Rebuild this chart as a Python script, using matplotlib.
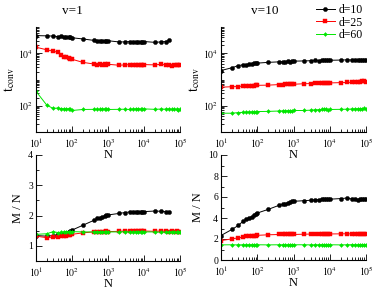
import numpy as np
import matplotlib
matplotlib.use("Agg")
from matplotlib import pyplot as plt
from matplotlib.ticker import FixedLocator, NullFormatter

plt.rcParams['font.family'] = ['Liberation Serif', 'DejaVu Serif']
plt.rcParams['mathtext.fontset'] = 'stix'

# system sizes
N = [10, 20, 30, 40, 50, 60, 70, 80, 90, 100, 200, 400, 500, 600, 700, 800, 900, 1000,
     2000, 3000, 4000, 5000, 6000, 7000, 8000, 9000, 10000,
     20000, 30000, 40000, 50000, 60000, 70000, 80000, 90000, 100000]
N_short = N[:31]  # black v=1 stops at 5e4

# t_conv, v=1
t1_d10 = [4.7e4, 4.6e4, 4.5e4, 4.3e4, 4.4e4, 4.2e4, 4.3e4, 4.1e4, 4.0e4, 3.9e4, 3.5e4,
          3.1e4, 3.0e4, 3.0e4, 2.9e4, 3.0e4, 2.9e4, 3.0e4, 2.7e4, 2.7e4, 2.8e4, 2.7e4,
          2.8e4, 2.7e4, 2.8e4, 2.7e4, 2.8e4, 2.6e4, 2.7e4, 2.8e4, 3.1e4]
t1_d25 = [1.7e4, 1.35e4, 1.2e4, 1.1e4, 8.5e3, 7.5e3, 7.0e3, 6.5e3, 6.2e3, 5.9e3, 4.5e3,
          3.9e3, 3.7e3, 3.8e3, 3.7e3, 3.8e3, 3.7e3, 3.8e3, 3.5e3, 3.6e3, 3.7e3, 3.6e3,
          3.7e3, 3.6e3, 3.7e3, 3.6e3, 3.7e3, 3.6e3, 3.8e3, 3.6e3, 3.7e3, 3.4e3, 3.7e3,
          3.5e3, 3.6e3, 3.5e3]
t1_d60 = [355, 105, 79, 82, 78, 76, 74, 78, 72, 66, 72, 73, 74, 72, 75, 76, 73, 72,
          73, 74, 72, 75, 76, 78, 74, 73, 76, 73, 75, 74, 76, 72, 74, 73, 71, 72]

# t_conv, v=10
t10_d10 = [2.2e3, 2.8e3, 3.4e3, 3.6e3, 3.6e3, 3.8e3, 4.0e3, 4.1e3, 4.1e3, 4.2e3, 4.5e3,
           4.7e3, 4.8e3, 4.8e3, 4.9e3, 4.8e3, 5.0e3, 5.0e3, 5.1e3, 5.2e3, 5.3e3, 5.2e3,
           5.3e3, 5.4e3, 5.4e3, 5.3e3, 5.4e3, 5.5e3, 5.6e3, 5.5e3, 5.6e3, 5.6e3, 5.5e3,
           5.7e3, 5.6e3, 5.6e3]
t10_d25 = [510, 530, 540, 560, 570, 580, 590, 590, 600, 600, 610, 640, 640, 650, 650,
           660, 650, 660, 690, 700, 720, 710, 730, 720, 730, 740, 740, 760, 770, 780,
           790, 800, 820, 860, 840, 820]
t10_d60 = [52, 52, 55, 56, 57, 58, 58, 59, 57, 60, 61, 63, 64, 64, 65, 65, 63, 66,
           66, 68, 70, 71, 72, 72, 73, 71, 72, 73, 74, 75, 76, 77, 76, 78, 79, 78]

# M / N, v=1
m1_d10 = [1.34, 1.32, 1.34, 1.38, 1.40, 1.40, 1.43, 1.47, 1.49, 1.52, 1.68,
          1.84, 1.91, 1.93, 1.95, 1.99, 2.01, 2.02, 2.07, 2.10, 2.12, 2.12, 2.13,
          2.12, 2.13, 2.13, 2.13, 2.15, 2.14, 2.13, 2.13]
m1_d25 = [1.32, 1.27, 1.29, 1.30, 1.32, 1.33, 1.34, 1.35, 1.37, 1.38, 1.43, 1.46,
          1.47, 1.46, 1.47, 1.47, 1.48, 1.47, 1.48, 1.49, 1.48, 1.49, 1.50, 1.49,
          1.50, 1.49, 1.49, 1.48, 1.49, 1.48, 1.47, 1.48, 1.47, 1.48, 1.47, 1.47]
m1_d60 = [1.38, 1.40, 1.47, 1.44, 1.45, 1.46, 1.46, 1.47, 1.47, 1.47, 1.46, 1.46,
          1.47, 1.46, 1.47, 1.46, 1.47, 1.46, 1.46, 1.47, 1.46, 1.46, 1.47, 1.46,
          1.47, 1.46, 1.46, 1.46, 1.45, 1.46, 1.45, 1.46, 1.45, 1.45, 1.46, 1.45]

# M / N, v=10
m10_d10 = [2.33, 2.91, 3.29, 3.67, 3.87, 4.00, 4.12, 4.25, 4.35, 4.47, 4.82, 5.21,
           5.30, 5.36, 5.46, 5.52, 5.59, 5.59, 5.65, 5.69, 5.72, 5.75, 5.78, 5.80,
           5.83, 5.80, 5.79, 5.85, 5.90, 5.81, 5.78, 5.74, 5.80, 5.78, 5.81, 5.80]
m10_d25 = [1.85, 2.01, 2.11, 2.17, 2.27, 2.29, 2.31, 2.33, 2.33, 2.35, 2.40, 2.43,
           2.44, 2.43, 2.45, 2.44, 2.45, 2.43, 2.46, 2.47, 2.48, 2.46, 2.49, 2.48,
           2.50, 2.49, 2.48, 2.49, 2.50, 2.48, 2.49, 2.47, 2.48, 2.50, 2.49, 2.48]
m10_d60 = [1.44, 1.45, 1.44, 1.45, 1.44, 1.45, 1.45, 1.44, 1.45, 1.45, 1.44, 1.45,
           1.45, 1.44, 1.45, 1.45, 1.44, 1.45, 1.45, 1.44, 1.45, 1.45, 1.46, 1.45,
           1.45, 1.44, 1.45, 1.44, 1.45, 1.46, 1.45, 1.44, 1.45, 1.45, 1.44, 1.45]

labels = ['d=10', 'd=25', 'd=60']
colors = ['black', '#ff0000', '#00e600']
markers = ['o', 's', 'D']
msizes = [3.0, 2.6, 2.0]

fig = plt.figure(figsize=(3.74, 2.89), dpi=100)
W, H = 374.0, 289.0
def box(x0, y0, x1, y1):
  return [x0 / W, 1 - y1 / H, (x1 - x0) / W, (y1 - y0) / H]

ax_tl = fig.add_axes(box(36, 27, 180, 132))
ax_tr = fig.add_axes(box(221, 27, 366, 132))
ax_bl = fig.add_axes(box(36, 155, 180, 261))
ax_br = fig.add_axes(box(221, 155, 366, 260))

def draw(ax, xs_list, ys_list):
  hs = []
  for xs, ys, c, m, s in zip(xs_list, ys_list, colors, markers, msizes):
    h, = ax.plot(xs, ys, color=c, marker=m, markersize=s, linewidth=0.7,
                 markeredgewidth=0.3)
    hs.append(h)
  return hs

draw(ax_tl, [N_short, N, N], [t1_d10, t1_d25, t1_d60])
hs = draw(ax_tr, [N, N, N], [t10_d10, t10_d25, t10_d60])
draw(ax_bl, [N_short, N, N], [m1_d10, m1_d25, m1_d60])
draw(ax_br, [N, N, N], [m10_d10, m10_d25, m10_d60])

minor_x = [k * 10**e for e in range(1, 5) for k in range(2, 10)]
for ax in [ax_tl, ax_tr, ax_bl, ax_br]:
  ax.patch.set_alpha(0)  # so the top "N" labels are not hidden by lower axes
  ax.set_xscale('log')
  ax.set_xlim(10, 1e5)
  ax.set_xticks([1e1, 1e2, 1e3, 1e4, 1e5])
  ax.set_xticklabels([r'$10^{%d}$' % e for e in range(1, 6)])
  ax.xaxis.set_minor_locator(FixedLocator(minor_x))
  ax.xaxis.set_minor_formatter(NullFormatter())
  ax.spines['top'].set_visible(False)
  ax.spines['right'].set_visible(False)
  for sp in ax.spines.values():
    sp.set_linewidth(0.8)
  ax.tick_params(which='both', direction='in', labelsize=7, width=0.6)
  ax.tick_params(axis='x', which='both', pad=3.5)
  ax.tick_params(axis='y', which='both', pad=2)
  ax.tick_params(which='major', length=4)
  ax.tick_params(which='minor', length=2)
  ax.set_xlabel('N', fontsize=9, labelpad=-1)

minor_y = [k * 10**e for e in range(1, 5) for k in range(2, 10)] + [1e3, 1e5]
for ax in [ax_tl, ax_tr]:
  ax.set_yscale('log')
  ax.set_ylim(10, 1e5)
  ax.set_yticks([1e2, 1e4])
  ax.set_yticklabels([r'$10^{2}$', r'$10^{4}$'])
  ax.yaxis.set_minor_locator(FixedLocator(minor_y))
  ax.yaxis.set_minor_formatter(NullFormatter())
  ax.set_ylabel(r'$\mathrm{t}_{\mathrm{conv}}$', fontsize=10, labelpad=1)

ax_bl.set_ylim(0.5, 4)
ax_bl.set_yticks([1, 2, 3, 4])
ax_bl.yaxis.set_minor_locator(FixedLocator([1.5, 2.5, 3.5]))
ax_br.set_ylim(0, 10)
ax_br.set_yticks([0, 2, 4, 6, 8, 10])
ax_br.yaxis.set_minor_locator(FixedLocator([1, 3, 5, 7, 9]))
for ax in [ax_bl, ax_br]:
  ax.set_ylabel('M / N', fontsize=9, labelpad=3)

fig.text(72 / W, 1 - 11 / H, 'v=1', fontsize=9.5, ha='center', va='center')
fig.text(265 / W, 1 - 11 / H, 'v=10', fontsize=9.5, ha='center', va='center')

fig.legend(hs, labels, loc='upper left', bbox_to_anchor=(316 / W, 1 - 4 / H),
           frameon=False, fontsize=8.5, handlelength=1.6, handletextpad=0.3,
           labelspacing=0.05, borderpad=0, borderaxespad=0)

fig.savefig('out.png', dpi=100)
